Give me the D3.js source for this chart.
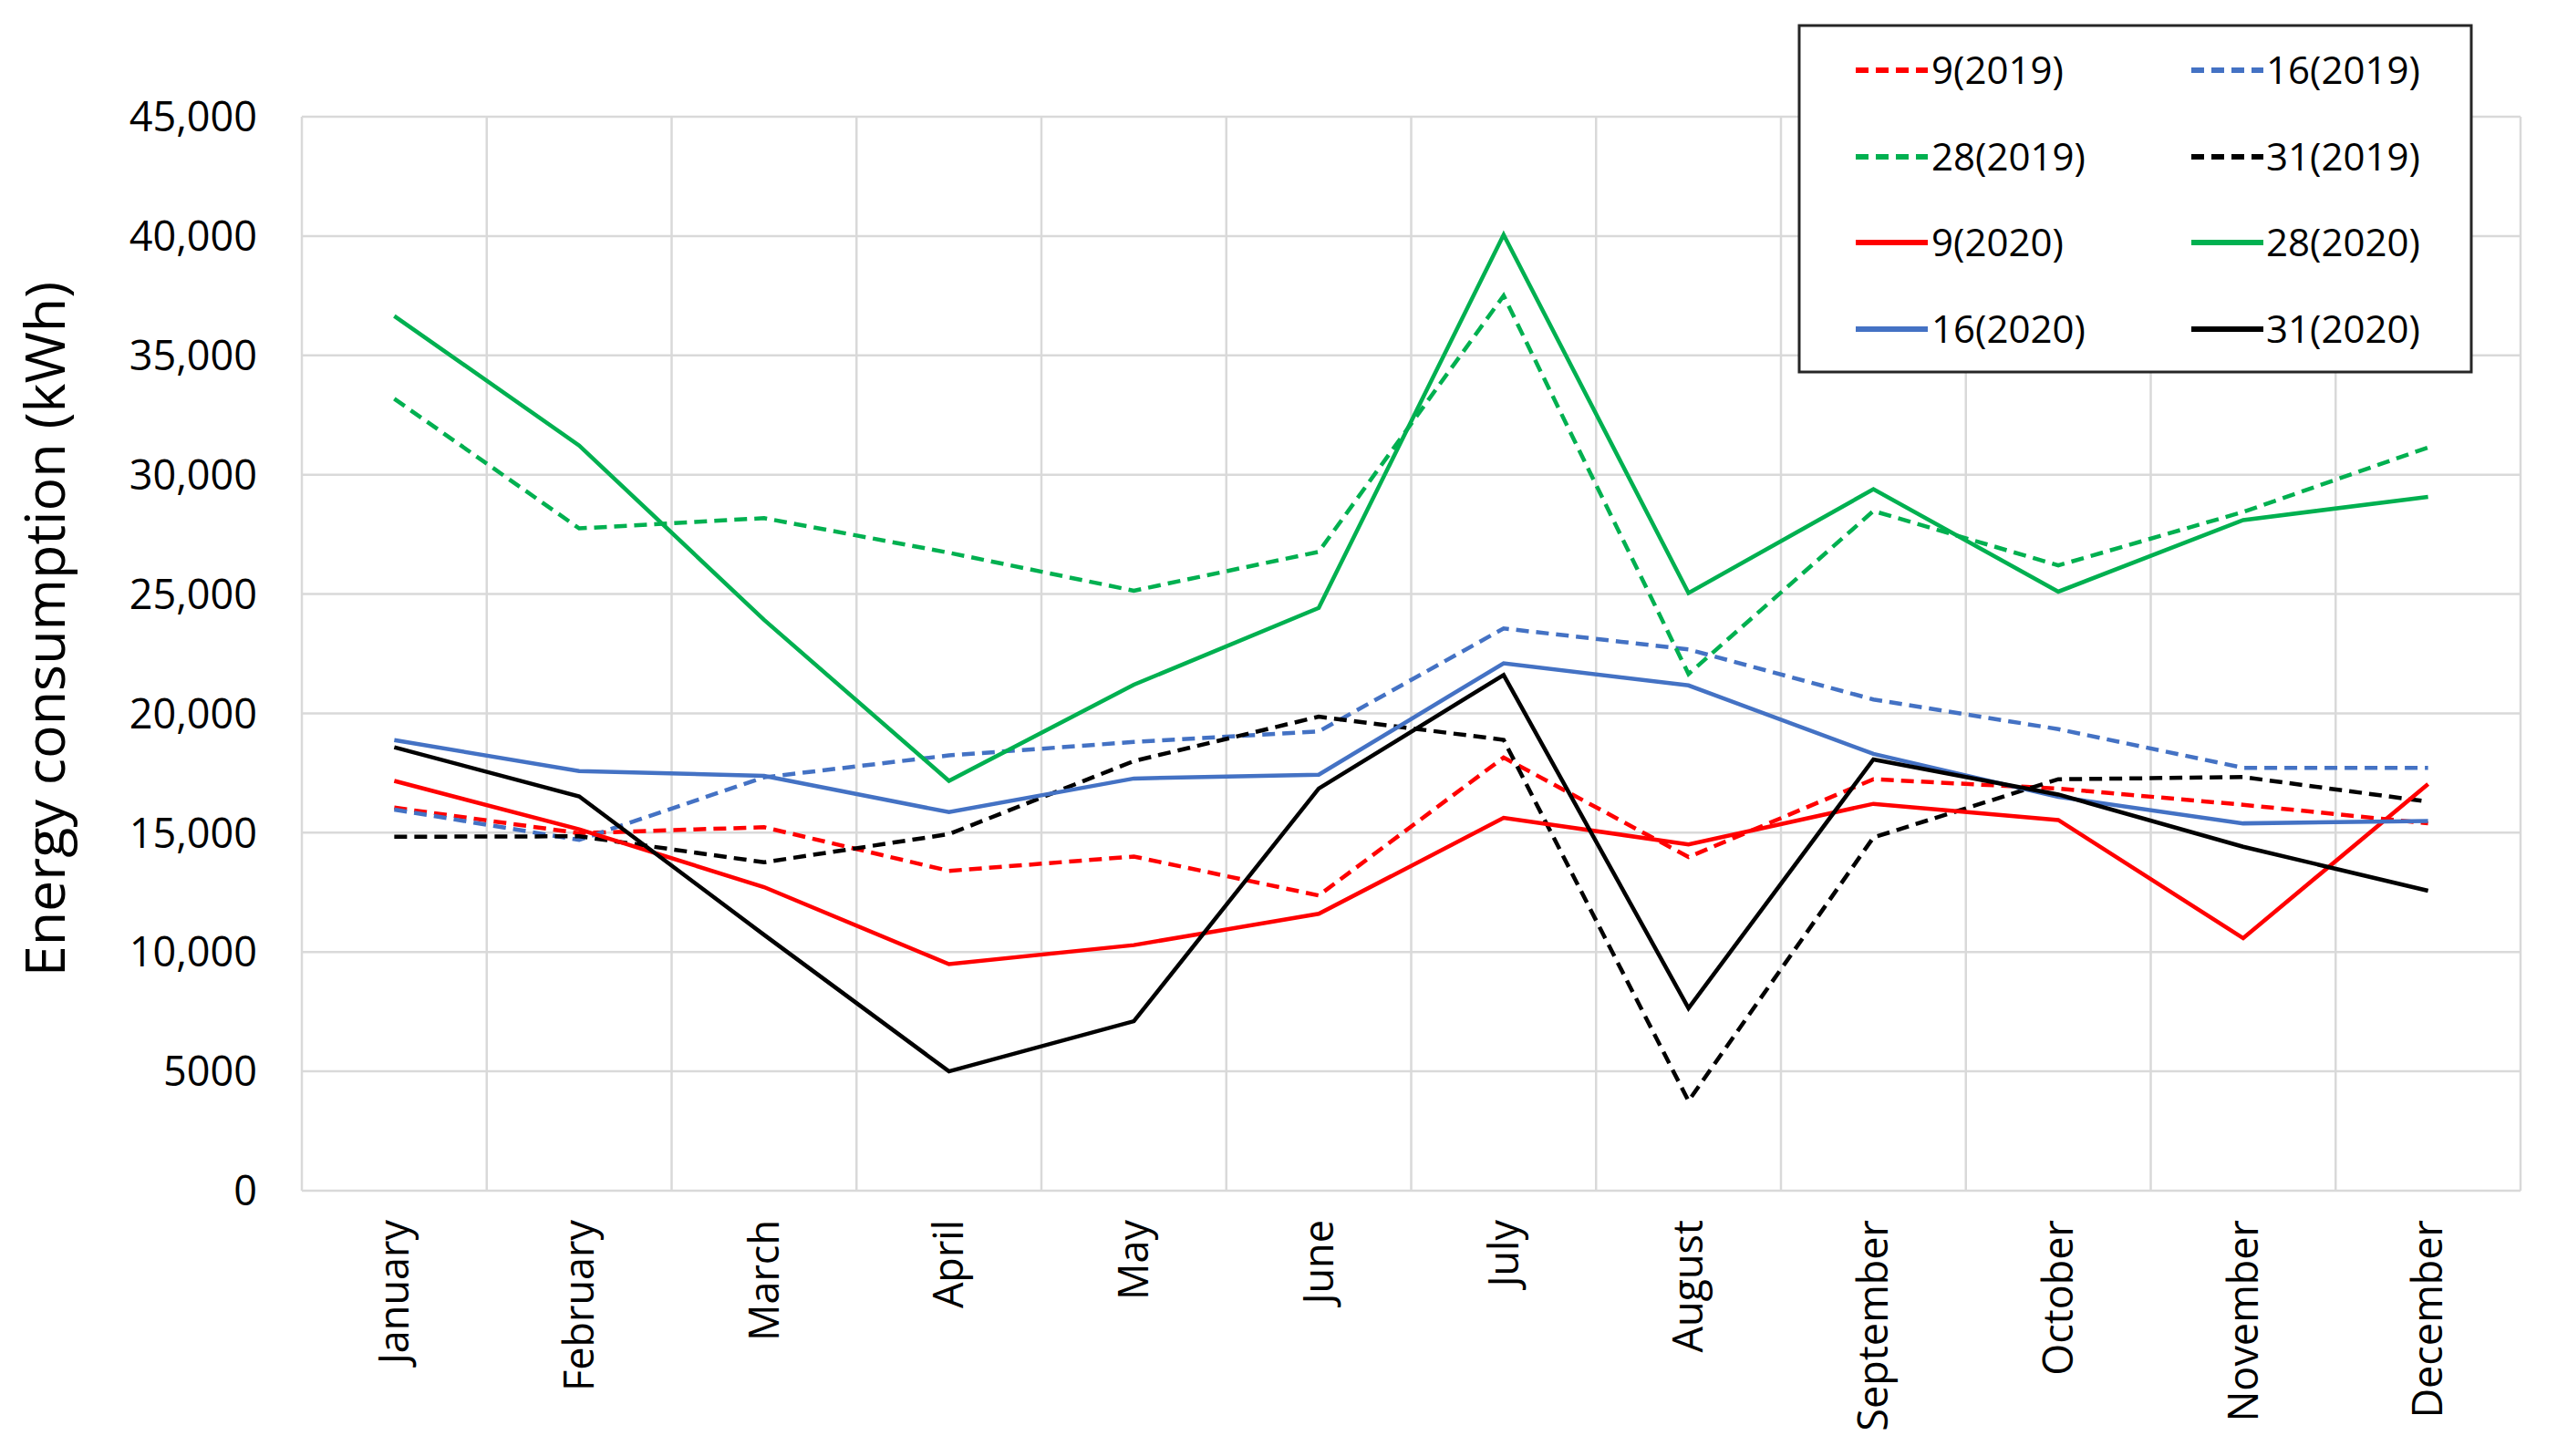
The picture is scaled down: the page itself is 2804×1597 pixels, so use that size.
<!DOCTYPE html>
<html>
<head>
<meta charset="utf-8">
<script src="https://cdn.jsdelivr.net/npm/d3@7"></script>
<style>
  html, body { margin: 0; padding: 0; background: #fff; }
  svg { display: block; }
</style>
</head>
<body>
<svg id="chart" width="2804" height="1597"></svg>
<script>
// ---------- DATA ----------
const months = ["January","February","March","April","May","June","July","August","September","October","November","December"];
const yTicks = [0, 5000, 10000, 15000, 20000, 25000, 30000, 35000, 40000, 45000];
const yTickLabels = ["0","5000","10,000","15,000","20,000","25,000","30,000","35,000","40,000","45,000"];
const seriesNames = ["9(2019)","16(2019)","28(2019)","31(2019)","9(2020)","28(2020)","16(2020)","31(2020)"];
const seriesColors = ["#ff0000","#4472c4","#00b050","#000000","#ff0000","#00b050","#4472c4","#000000"];
const seriesDashed = [true, true, true, true, false, false, false, false];

const s9_2019  = [16050, 14980, 15230, 13400, 14000, 12370, 18150, 13980, 17240, 16850, 16170, 15390];
const s16_2019 = [15970, 14700, 17320, 18240, 18800, 19240, 23560, 22680, 20580, 19340, 17720, 17720];
const s28_2019 = [33180, 27750, 28180, 26730, 25140, 26770, 37500, 21650, 28480, 26200, 28440, 31140];
const s31_2019 = [14830, 14850, 13760, 14940, 18000, 19860, 18890, 3760, 14800, 17240, 17330, 16300];
const s9_2020  = [17170, 15140, 12720, 9490, 10290, 11600, 15620, 14510, 16210, 15530, 10580, 17040];
const s28_2020 = [36650, 31220, 23920, 17170, 21200, 24420, 40050, 25040, 29390, 25100, 28100, 29070];
const s16_2020 = [18880, 17580, 17380, 15860, 17270, 17430, 22100, 21170, 18300, 16500, 15390, 15490];
const s31_2020 = [18580, 16520, 10720, 5000, 7100, 16850, 21610, 7650, 18070, 16600, 14410, 12570];
const seriesValues = [s9_2019, s16_2019, s28_2019, s31_2019, s9_2020, s28_2020, s16_2020, s31_2020];

// ---------- LAYOUT ----------
const plot = { left: 331, right: 2764, top: 128, bottom: 1306 };
const svg = d3.select("#chart");
const font = "'Open Sans', 'Noto Sans', sans-serif";

const x = d3.scaleBand().domain(months).range([plot.left, plot.right]).paddingInner(0).paddingOuter(0);
const y = d3.scaleLinear().domain([0, 45000]).range([plot.bottom, plot.top]);
const cx = m => x(m) + x.bandwidth() / 2;

// gridlines
const grid = svg.append("g").attr("stroke", "#d9d9d9").attr("stroke-width", 2.5);
grid.selectAll("line.h").data(yTicks).join("line")
  .attr("x1", plot.left).attr("x2", plot.right)
  .attr("y1", d => y(d)).attr("y2", d => y(d));
const vBounds = months.map(m => x(m)).concat([plot.right]);
grid.selectAll("line.v").data(vBounds).join("line")
  .attr("x1", d => d).attr("x2", d => d)
  .attr("y1", plot.top).attr("y2", plot.bottom);

// y axis labels
const yAxis = d3.axisLeft(y).tickValues(yTicks)
  .tickFormat((d, i) => yTickLabels[i]).tickSize(0).tickPadding(0);
const yg = svg.append("g").attr("transform", `translate(282,0)`).call(yAxis);
yg.select(".domain").remove();
yg.selectAll("text").attr("font-family", font).attr("font-size", 45).attr("fill", "#000")
  .attr("dy", "0.35em").attr("x", 0);

// x axis labels (rotated)
const xAxis = d3.axisBottom(x).tickSize(0).tickPadding(0);
const xg = svg.append("g").attr("transform", `translate(0,${plot.bottom + 32})`).call(xAxis);
xg.select(".domain").remove();
xg.selectAll("text")
  .attr("font-family", font).attr("font-size", 45).attr("fill", "#000")
  .attr("transform", "rotate(-90)")
  .attr("text-anchor", "end")
  .attr("x", 0).attr("y", 0).attr("dy", "0.35em");

// y axis title
svg.append("text")
  .attr("transform", "translate(50,690) rotate(-90)")
  .attr("text-anchor", "middle").attr("dy", "0.35em")
  .attr("font-family", font).attr("font-size", 61).attr("fill", "#000")
  .text("Energy consumption (kWh)");

// series lines
const line = d3.line().x((d, i) => cx(months[i])).y(d => y(d));
const lines = svg.append("g").attr("fill", "none").attr("stroke-linejoin", "miter");
seriesValues.forEach((vals, k) => {
  lines.append("path")
    .attr("d", line(vals))
    .attr("stroke", seriesColors[k])
    .attr("stroke-width", 4.5)
    .attr("stroke-dasharray", seriesDashed[k] ? "14,8" : null);
});

// legend
const lg = svg.append("g");
lg.append("rect").attr("x", 1973).attr("y", 28).attr("width", 737).attr("height", 380)
  .attr("fill", "#fff").attr("stroke", "#262626").attr("stroke-width", 3);
const colLine = [2035, 2403];
const colText = [2118, 2485];
const rowY = [77, 172, 266, 361];
seriesNames.forEach((name, k) => {
  const col = k % 2, row = Math.floor(k / 2);
  lg.append("line")
    .attr("x1", colLine[col]).attr("x2", colLine[col] + 79)
    .attr("y1", rowY[row]).attr("y2", rowY[row])
    .attr("stroke", seriesColors[k]).attr("stroke-width", 6)
    .attr("stroke-dasharray", seriesDashed[k] ? "14,8" : null);
  lg.append("text")
    .attr("x", colText[col]).attr("y", rowY[row]).attr("dy", "0.35em")
    .attr("font-family", font).attr("font-size", 42).attr("fill", "#000")
    .text(name);
});
</script>
</body>
</html>
